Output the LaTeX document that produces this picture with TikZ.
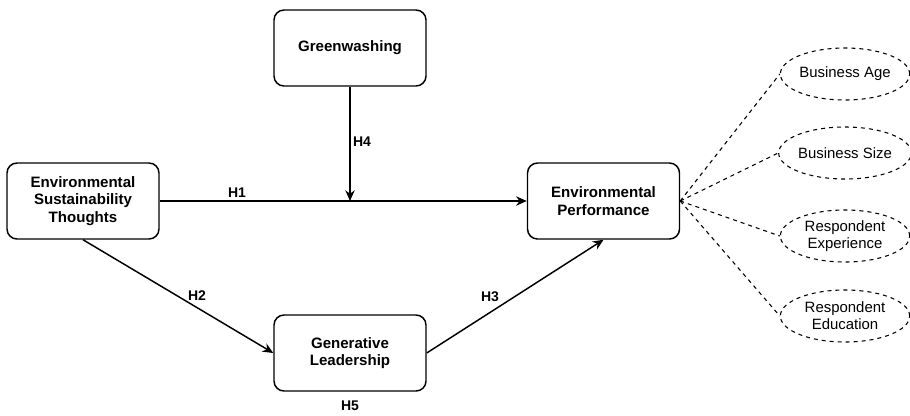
\documentclass[tikz,border=0pt]{standalone}
\usepackage{fontspec}
\setmainfont{Liberation Sans}
\usetikzlibrary{arrows.meta,shapes.geometric}
\begin{document}
\begin{tikzpicture}[x=0.75pt,y=-0.75pt,
  box/.style={draw,line width=1.1pt,rounded corners=7.5pt,minimum width=114pt,minimum height=57pt,align=center,font=\bfseries\fontsize{11.3}{13.3}\selectfont,inner sep=0pt},
  ctrl/.style={draw,dashed,line width=0.8pt,ellipse,minimum width=97pt,minimum height=39pt,align=center,font=\fontsize{11.2}{12.6}\selectfont,inner sep=0pt},
  link/.style={line width=1.1pt,-{Stealth[length=8pt,width=7pt]}},
  dlink/.style={dashed,line width=0.8pt},
  hlab/.style={font=\bfseries\fontsize{10.5}{12}\selectfont}]
\useasboundingbox (0,0) rectangle (910,415);
\node[box] (est) at (83,201) {Environmental\\Sustainability\\Thoughts};
\node[box] (gw) at (350,48) {Greenwashing};
\node[box] (ep) at (603.5,201) {Environmental\\Performance};
\node[box] (gl) at (350,353) {Generative\\Leadership};
\node[ctrl] (ba) at (845,74) {Business Age};
\node[ctrl] (bs) at (845,153) {Business Size};
\node[ctrl] (re) at (845,236) {Respondent\\Experience};
\node[ctrl] (rd) at (845,316) {Respondent\\Education};
\coordinate (hm) at (350,201);
\draw[link] (est.east) -- (ep.west);
\draw[link] (gw.south) -- (hm);
\draw[link] (est.south) -- (gl.west);
\draw[link] (gl.east) -- (ep.south);
\draw[dlink] (ep.east) -- (ba.west);
\draw[dlink] (ep.east) -- (bs.west);
\draw[dlink] (ep.east) -- (re.west);
\draw[dlink] (ep.east) -- (rd.west);
\node[hlab] (h1) at (237,193) {H1};
\node[hlab] (h4) at (362,142) {H4};
\node[hlab] (h2) at (197,296) {H2};
\node[hlab] (h3) at (490,297) {H3};
\node[hlab] (h5) at (350,406) {H5};
\end{tikzpicture}
\end{document}
